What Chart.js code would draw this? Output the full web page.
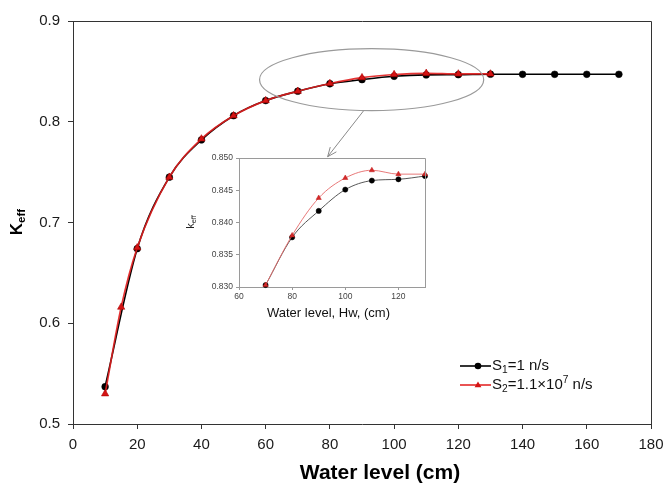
<!DOCTYPE html>
<html><head><meta charset="utf-8">
<script src="https://cdn.jsdelivr.net/npm/chart.js@4/dist/chart.umd.min.js"></script>
<style>
html,body{margin:0;padding:0;background:#fff;}
#wrap{position:relative;width:667px;height:486px;overflow:hidden;}
#main{position:absolute;left:0;top:0;}
#inset{position:absolute;left:180px;top:140px;}
</style></head><body>
<div id="wrap"><canvas id="main" width="667" height="486"></canvas><canvas id="inset" width="260" height="190"></canvas></div>
<script>
// ---- data ----
const waterLevelS1 = [10,20,30,40,50,60,70,80,90,100,110,120,130,140,150,160,170];
const keffS1 = [0.537,0.674,0.745,0.782,0.806,0.821,0.8303,0.8377,0.8418,0.8451,0.8465,0.8467,0.8472,0.8471,0.8471,0.8471,0.8471];
const waterLevelS2 = [10,15,20,30,40,50,60,70,80,90,100,110,120,130];
const keffS2 = [0.530,0.616,0.675,0.745,0.783,0.806,0.821,0.8303,0.8380,0.8438,0.8469,0.8481,0.8475,0.8475];
const seriesLabels = ['S1=1 n/s','S2=1.1×10^7 n/s'];
const legendMarkup = ['S_{1}=1 n/s','S_{2}=1.1×10^{7} n/s'];
const xTicksMain = [0,20,40,60,80,100,120,140,160,180];
const yTicksMain = [0.5,0.6,0.7,0.8,0.9];
const xTicksInset = [60,80,100,120];
const yTicksInset = [0.830,0.835,0.840,0.845,0.850];
const insetRange = [70,130];
const xTitleMain = 'Water level (cm)';
const yTitleMain = 'K_{eff}';
const xTitleInset = 'Water level, Hw, (cm)';
const yTitleInset = 'k_{eff}';

const FONT = '"Liberation Sans", Arial, sans-serif';
const toXY = (xs, ys) => xs.map((x,i)=>({x:x,y:ys[i]}));
const inRange = (pts) => pts.filter(p=>p.x>=insetRange[0]&&p.x<=insetRange[1]);

// rich text helper (sub/superscripts)
function parseRich(s){
  const parts=[]; const re=/(_\{[^}]*\}|\^\{[^}]*\})/g; let last=0,m;
  while((m=re.exec(s))){ if(m.index>last) parts.push({t:s.slice(last,m.index),k:'n'});
    parts.push({t:m[0].slice(2,-1),k:m[0][0]==='_'?'sub':'sup'}); last=re.lastIndex; }
  if(last<s.length) parts.push({t:s.slice(last),k:'n'}); return parts;
}
function richWidth(ctx,parts,size,weight){
  let w=0; parts.forEach(p=>{ const fs=p.k==='n'?size:size*0.68; ctx.font=weight+' '+fs+'px '+FONT; w+=ctx.measureText(p.t).width; }); return w;
}
function drawRich(ctx,s,x,y,size,weight,color,align){
  const parts=parseRich(s); ctx.save(); ctx.fillStyle=color; ctx.textBaseline='middle'; ctx.textAlign='left';
  const w=richWidth(ctx,parts,size,weight); let cx = align==='center'? x-w/2 : x;
  parts.forEach(p=>{ const fs=p.k==='n'?size:size*0.68; ctx.font=weight+' '+fs+'px '+FONT;
    const dy = p.k==='sub'? size*0.3 : (p.k==='sup'? -size*0.35:0);
    ctx.fillText(p.t,cx,y+dy); cx+=ctx.measureText(p.t).width; });
  ctx.restore();
}
function drawRotRich(ctx,s,x,y,size,weight,color){
  ctx.save(); ctx.translate(x,y); ctx.rotate(-Math.PI/2); drawRich(ctx,s,0,0,size,weight,color,'center'); ctx.restore();
}
function noPad(s){ s.paddingLeft=0; s.paddingRight=0; s.paddingTop=0; s.paddingBottom=0; }

// ---- main chart plugins ----
const mainDecor = {
  id:'mainDecor',
  afterDatasetsDraw(chart){
    const ctx=chart.ctx, a=chart.chartArea, xs=chart.scales.x, ys=chart.scales.y;
    // box top/right
    ctx.save(); ctx.strokeStyle='#333'; ctx.lineWidth=1;
    ctx.beginPath(); ctx.moveTo(Math.round(a.left)+0.5,Math.round(a.top)+0.5); ctx.lineTo(Math.round(a.right)+0.5,Math.round(a.top)+0.5);
    ctx.lineTo(Math.round(a.right)+0.5,Math.round(a.bottom)+0.5); ctx.stroke(); ctx.restore();
    // ellipse highlighting the zoomed region
    const cx=xs.getPixelForValue(93), cy=ys.getPixelForValue(0.8418);
    const rx=xs.getPixelForValue(93+34.9)-cx, ry=cy-ys.getPixelForValue(0.8418+0.0307);
    ctx.save(); ctx.strokeStyle='#9a9a9a'; ctx.lineWidth=1.2; ctx.beginPath(); ctx.ellipse(cx,cy,rx,ry,0,0,Math.PI*2); ctx.stroke();
    // arrow
    const x1=xs.getPixelForValue(90.5), y1=ys.getPixelForValue(0.8109), x2=xs.getPixelForValue(79.3), y2=ys.getPixelForValue(0.7653);
    ctx.strokeStyle='#8a8a8a'; ctx.lineWidth=1; ctx.beginPath(); ctx.moveTo(x1,y1); ctx.lineTo(x2,y2); ctx.stroke();
    const ang=Math.atan2(y2-y1,x2-x1), L=10;
    ctx.beginPath(); ctx.moveTo(x2-L*Math.cos(ang-0.4),y2-L*Math.sin(ang-0.4)); ctx.lineTo(x2,y2); ctx.lineTo(x2-L*Math.cos(ang+0.4),y2-L*Math.sin(ang+0.4)); ctx.stroke();
    ctx.restore();
    // legend
    const rows=[366,385]; const ds=chart.data.datasets;
    [0,1].forEach(i=>{
      const d=ds[i]; const y=rows[i];
      ctx.save(); ctx.strokeStyle=d.borderColor; ctx.lineWidth=d.borderWidth;
      ctx.beginPath(); ctx.moveTo(460,y); ctx.lineTo(491,y); ctx.stroke();
      ctx.fillStyle=d.pointBackgroundColor; ctx.beginPath();
      if(d.pointStyle==='circle'){ ctx.arc(478,y,3.3,0,Math.PI*2); }
      else { const r=3.6; ctx.moveTo(478,y-r); ctx.lineTo(478+r*0.95,y+r*0.6); ctx.lineTo(478-r*0.95,y+r*0.6); ctx.closePath(); }
      ctx.fill(); ctx.restore();
      drawRich(ctx,legendMarkup[i],492,y,15,'normal','#111','left');
    });
    // axis titles
    drawRich(ctx,xTitleMain,380,473,21,'bold','#000','center');
    drawRotRich(ctx,yTitleMain,17,222,17,'bold','#000');
  }
};

const commonTickFont = {family:FONT,size:15};
new Chart(document.getElementById('main'),{
  type:'line',
  data:{datasets:[
    {label:seriesLabels[0],data:toXY(waterLevelS1,keffS1),borderColor:'#000',borderWidth:1.6,
     pointStyle:'circle',pointRadius:3.4,pointBackgroundColor:'#000',pointBorderColor:'#000',pointBorderWidth:0.5,
     cubicInterpolationMode:'monotone',order:1},
    {label:seriesLabels[1],data:toXY(waterLevelS2,keffS2),borderColor:'rgba(225,30,30,0.9)',borderWidth:1.7,
     pointStyle:'triangle',pointRadius:4.2,pointBackgroundColor:'#d41414',pointBorderColor:'#b00000',pointBorderWidth:0.6,
     cubicInterpolationMode:'monotone',order:0}
  ]},
  options:{
    responsive:false,animation:false,devicePixelRatio:1,
    layout:{padding:{top:21,right:16,left:0,bottom:0}},
    plugins:{legend:{display:false},tooltip:{enabled:false}},
    scales:{
      x:{type:'linear',min:xTicksMain[0],max:xTicksMain[xTicksMain.length-1],
         afterBuildTicks:s=>{s.ticks=xTicksMain.map(v=>({value:v}));},
         afterFit:s=>{s.height=62; noPad(s);},
         grid:{drawOnChartArea:false,drawTicks:true,tickLength:5,color:'#333'},
         border:{display:true,color:'#333',width:1},
         ticks:{font:commonTickFont,color:'#1a1a1a',padding:7,maxRotation:0,callback:v=>String(v)}},
      y:{type:'linear',min:yTicksMain[0],max:yTicksMain[yTicksMain.length-1],
         afterBuildTicks:s=>{s.ticks=yTicksMain.map(v=>({value:v}));},
         afterFit:s=>{s.width=73; noPad(s);},
         grid:{drawOnChartArea:false,drawTicks:true,tickLength:5,color:'#333'},
         border:{display:true,color:'#333',width:1},
         ticks:{font:commonTickFont,color:'#1a1a1a',padding:8,callback:v=>Number(v).toFixed(1)}}
    }
  },
  plugins:[mainDecor]
});

// ---- inset ----
const insetDecor = {
  id:'insetDecor',
  afterDatasetsDraw(chart){
    const ctx=chart.ctx,a=chart.chartArea;
    ctx.save(); ctx.strokeStyle='#9a9a9a'; ctx.lineWidth=1;
    ctx.beginPath(); ctx.moveTo(Math.round(a.left)+0.5,Math.round(a.top)+0.5); ctx.lineTo(Math.round(a.right)+0.5,Math.round(a.top)+0.5);
    ctx.lineTo(Math.round(a.right)+0.5,Math.round(a.bottom)+0.5); ctx.stroke(); ctx.restore();
    drawRich(ctx,xTitleInset,148.5,173,13,'normal','#111','center');
    drawRotRich(ctx,yTitleInset,11,82,11,'normal','#222');
  }
};
const insetTickFont={family:FONT,size:8.5};
new Chart(document.getElementById('inset'),{
  type:'line',
  data:{datasets:[
    {label:seriesLabels[0],data:inRange(toXY(waterLevelS1,keffS1)),borderColor:'#444',borderWidth:0.9,
     pointStyle:'circle',pointRadius:2.6,pointBackgroundColor:'#000',pointBorderColor:'#000',pointBorderWidth:0.5,
     cubicInterpolationMode:'monotone',order:1,clip:false},
    {label:seriesLabels[1],data:inRange(toXY(waterLevelS2,keffS2)),borderColor:'#e56a6a',borderWidth:0.9,
     pointStyle:'triangle',pointRadius:3,pointBackgroundColor:'#d42a2a',pointBorderColor:'#c01818',pointBorderWidth:0.5,
     cubicInterpolationMode:'monotone',order:0,clip:false}
  ]},
  options:{
    responsive:false,animation:false,devicePixelRatio:1,
    layout:{padding:{top:18,right:15,left:0,bottom:0}},
    plugins:{legend:{display:false},tooltip:{enabled:false}},
    scales:{
      x:{type:'linear',min:60,max:130,
         afterBuildTicks:s=>{s.ticks=xTicksInset.map(v=>({value:v}));},
         afterFit:s=>{s.height=43; noPad(s);},
         grid:{drawOnChartArea:false,drawTicks:true,tickLength:3,color:'#999'},
         border:{display:true,color:'#9a9a9a',width:1},
         ticks:{font:insetTickFont,color:'#444',padding:2,maxRotation:0,callback:v=>String(v)}},
      y:{type:'linear',min:yTicksInset[0],max:yTicksInset[yTicksInset.length-1],
         afterBuildTicks:s=>{s.ticks=yTicksInset.map(v=>({value:v}));},
         afterFit:s=>{s.width=59; noPad(s);},
         grid:{drawOnChartArea:false,drawTicks:true,tickLength:3,color:'#999'},
         border:{display:true,color:'#9a9a9a',width:1},
         ticks:{font:insetTickFont,color:'#444',padding:3,callback:v=>Number(v).toFixed(3)}}
    }
  },
  plugins:[insetDecor]
});
</script>
</body></html>
